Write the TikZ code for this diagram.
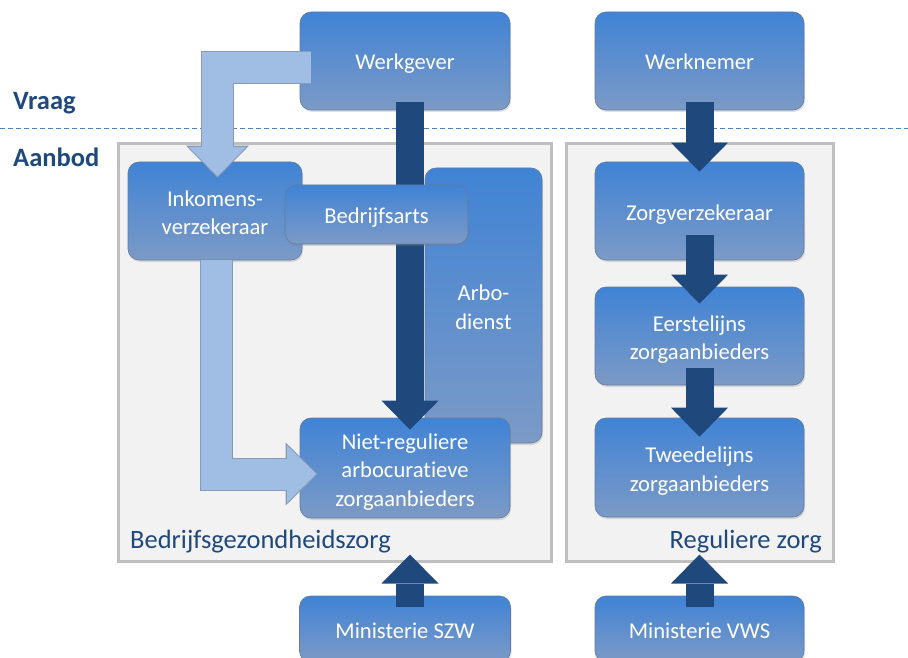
\documentclass[tikz,border=0pt]{standalone}
\usepackage{fontspec}
\setmainfont{Carlito}[Ligatures=CommonOff]
\usetikzlibrary{arrows.meta,shadows}

\definecolor{navy}{RGB}{31,73,125}
\definecolor{boxtop}{RGB}{64,131,213}
\definecolor{boxbot}{RGB}{124,154,198}
\definecolor{lightfill}{RGB}{160,190,227}
\definecolor{lightedge}{RGB}{135,155,185}
\definecolor{panelfill}{RGB}{242,242,242}
\definecolor{panelline}{RGB}{191,191,191}
\definecolor{splitline}{RGB}{79,129,189}

\begin{document}
\begin{tikzpicture}[x=1pt, y=-1pt,
    box/.style={rounded corners=11pt, top color=boxtop, bottom color=boxbot,
        draw=boxbot!80!black, line width=0.6pt, text=white, align=center, inner sep=0pt,
        font=\fontsize{22.6}{28.5}\selectfont, text height=23pt, text depth=5pt,
        drop shadow={shadow xshift=1pt, shadow yshift=-2pt, opacity=0.25}},
    lines2/.style={text height=52pt},
    lines3/.style={text height=81pt},
    panel/.style={draw=panelline, fill=panelfill, line width=3pt, inner sep=0pt},
    sidelabel/.style={text=navy, inner sep=0pt, font=\fontsize{26.5}{30}\selectfont},
    darrow/.style={draw=navy, line width=28pt, -{Triangle[width=57pt,length=29pt,line width=0pt]}},
    lightedge/.style={draw=lightedge, line width=33pt, line join=miter,
        -{Triangle[width=63pt,length=32pt,line width=0pt]}},
    lightarrow/.style={draw=lightfill, line width=31pt, line join=miter, shorten >=1.5pt,
        -{Triangle[width=57pt,length=29pt,line width=0pt]}}]

    \useasboundingbox (0,0) rectangle (908,658);
    \clip (0,0) rectangle (908,658);

    % Panels
    \node[panel, minimum width=433pt, minimum height=417pt] (bgz) at (334.5, 352.5) {};
    \node[panel, minimum width=267pt, minimum height=417pt] (rz) at (699.5, 352.5) {};

    % Vraag / Aanbod split
    \draw[splitline, line width=1pt, dash pattern=on 5pt off 3pt] (0,128.5) -- (908,128.5);

    % Demand side
    \node[box, minimum width=210pt, minimum height=98pt] (wg) at (405, 61) {Werkgever};
    \node[box, minimum width=209pt, minimum height=98pt] (wn) at (699.5, 61) {Werknemer};

    % Left side - occupational health care
    \node[box, lines2, minimum width=174pt, minimum height=98pt] (ik) at (215, 211) {Inkomens-\\verzekeraar};
    \node[box, lines2, minimum width=117pt, minimum height=275pt] (ad) at (483.5, 305.5) {Arbo-\\dienst};
    \node[box, lines3, minimum width=210pt, minimum height=100pt] (nr) at (405, 468) {Niet-reguliere\\arbocuratieve\\zorgaanbieders};

    \draw[darrow] ([xshift=5pt,yshift=8pt]wg.south) -- ([xshift=5pt,yshift=-12pt]nr.north);

    \node[box, minimum width=183pt, minimum height=59pt] (ba) at (376.5, 214.5) {Bedrijfsarts};

    % Right side - regular care
    \node[box, minimum width=209pt, minimum height=98pt] (zv) at (699.5, 211) {Zorgverzekeraar};
    \node[box, lines2, minimum width=209pt, minimum height=98pt] (el) at (699.5, 336) {Eerstelijns\\zorgaanbieders};
    \node[box, lines2, minimum width=209pt, minimum height=99pt] (tl) at (699.5, 467.5) {Tweedelijns\\zorgaanbieders};

    % Ministries
    \node[box, minimum width=211pt, minimum height=66pt] (szw) at (405, 629) {Ministerie SZW};
    \node[box, minimum width=209pt, minimum height=66pt] (vws) at (699.5, 629) {Ministerie VWS};

    % Dark arrows
    \draw[darrow] ([yshift=8pt]wn.south) -- ([yshift=-10pt]zv.north);
    \draw[darrow] ([yshift=25pt]zv.south) -- ([yshift=-17pt]el.north);
    \draw[darrow] ([yshift=17pt]el.south) -- ([yshift=-19pt]tl.north);
    \draw[darrow] ([xshift=5pt,yshift=-11pt]szw.north) -- ([xshift=5pt,yshift=8pt]szw.north |- bgz.south);
    \draw[darrow] ([yshift=-11pt]vws.north) -- ([yshift=8pt]rz.south);

    % Light arrows
    \draw[lightedge] ([xshift=11pt,yshift=-6.5pt]wg.west) -| ([xshift=2.5pt,yshift=-16pt]ik.north);
    \draw[lightarrow] ([xshift=11pt,yshift=-6.5pt]wg.west) -| ([xshift=2.5pt,yshift=-16pt]ik.north);
    \draw[lightedge] ([xshift=1pt]ik.south) |- ([xshift=18pt,yshift=-6pt]nr.west);
    \draw[lightarrow] ([xshift=1pt]ik.south) |- ([xshift=18pt,yshift=-6pt]nr.west);

    % Labels
    \node[sidelabel, anchor=base west] (vraag) at (13, 110) {\bfseries Vraag};
    \node[sidelabel, anchor=base west] (aanbod) at (13, 167) {\bfseries Aanbod};
    \node[sidelabel, anchor=base west] (bgzlabel) at (130, 548) {Bedrijfsgezondheidszorg};
    \node[sidelabel, anchor=base east] (rzlabel) at (822, 548) {Reguliere zorg};
\end{tikzpicture}
\end{document}
